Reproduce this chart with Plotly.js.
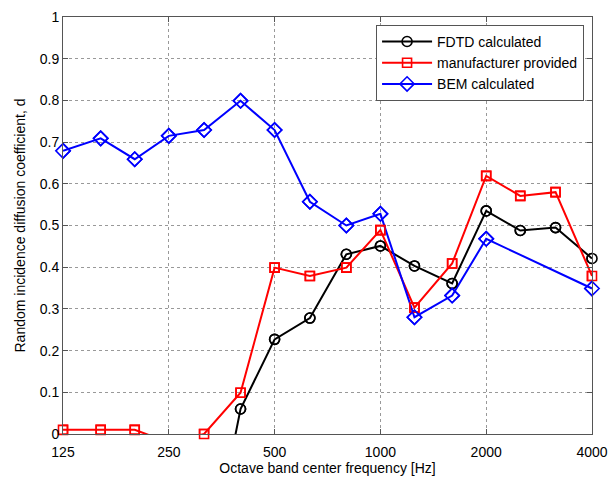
<!DOCTYPE html>
<html><head><meta charset="utf-8">
<script src="https://cdn.plot.ly/plotly-3.0.1.min.js"></script>
<style>html,body{margin:0;padding:0;background:#fff}</style>
</head><body>
<div id="chart" style="width:609px;height:477px"></div>
<script>
var freqs = [125,160,200,250,315,400,500,630,800,1000,1250,1600,2000,2500,3150,4000];
var fdtd = [null,null,null,null,-0.38,0.06,0.227,0.278,0.431,0.451,0.403,0.361,0.535,0.488,0.495,0.421];
var manufacturer = [0.01,0.01,0.01,-0.02,0.0,0.099,0.399,0.379,0.399,0.489,0.303,0.409,0.619,0.571,0.580,0.379];
var bem = [0.679,0.709,0.659,0.715,0.729,0.799,0.729,0.557,0.500,0.528,0.280,0.332,0.468,null,null,0.349];
var tickVals = [125,250,500,1000,2000,4000];
var tickText = ['125','250','500','1000','2000','4000'];
var seriesNames = ['FDTD calculated','manufacturer provided','BEM calculated'];

function xy(vals){
  var x=[],y=[];
  for(var i=0;i<freqs.length;i++){ if(vals[i]!==null){x.push(freqs[i]);y.push(vals[i]);} }
  return {x:x,y:y};
}
function inRange(vals){
  var x=[],y=[];
  for(var i=0;i<freqs.length;i++){ if(vals[i]!==null && vals[i]>=0 && vals[i]<=1){x.push(freqs[i]);y.push(vals[i]);} }
  return {x:x,y:y};
}
var defs = [
  {v:fdtd, c:'#000000', s:'circle-open', sz:10},
  {v:manufacturer, c:'#ff0000', s:'square-open', sz:9},
  {v:bem, c:'#0000ff', s:'diamond-open', sz:11}
];
var traces = [];
defs.forEach(function(d,k){
  var a = xy(d.v);
  traces.push({x:a.x,y:a.y,type:'scatter',mode:'lines+markers',name:seriesNames[k],
    line:{color:d.c,width:2},marker:{symbol:d.s,size:d.sz,color:d.c,line:{width:1.6,color:d.c}}});
});
defs.forEach(function(d,k){
  var a = inRange(d.v);
  traces.push({x:a.x,y:a.y,type:'scatter',mode:'markers',showlegend:false,cliponaxis:false,hoverinfo:'skip',
    marker:{symbol:d.s,size:d.sz,color:d.c,line:{width:1.6,color:d.c}}});
});

var fontFam = 'Liberation Sans, Arial, sans-serif';
var layout = {
  width:609,height:477,
  margin:{l:63,r:17,t:17,b:43},
  paper_bgcolor:'#fff',plot_bgcolor:'#fff',
  font:{family:fontFam,size:14,color:'#000'},
  showlegend:true,
  legend:{x:0.985,y:0.981,xanchor:'right',yanchor:'top',bgcolor:'#fff',bordercolor:'#555',borderwidth:1,
    font:{family:fontFam,size:14,color:'#000'},itemwidth:50,tracegroupgap:0},
  xaxis:{type:'log',range:[Math.log10(125),Math.log10(4000)],tickmode:'array',tickvals:tickVals,ticktext:tickText,
    showline:true,linecolor:'#555',linewidth:1,mirror:'ticks',ticks:'inside',ticklen:5,tickcolor:'#555',
    showgrid:true,gridcolor:'#999',griddash:'dot',gridwidth:1,zeroline:false,ticklabelstandoff:5,
    tickfont:{family:fontFam,size:14,color:'#000'},
    title:{text:'Octave band center frequency [Hz]',font:{family:fontFam,size:14,color:'#000'},standoff:2}},
  yaxis:{range:[0,1],tickvals:[0,0.1,0.2,0.3,0.4,0.5,0.6,0.7,0.8,0.9,1],
    ticktext:['0','0.1','0.2','0.3','0.4','0.5','0.6','0.7','0.8','0.9','1'],
    showline:true,linecolor:'#555',linewidth:1,mirror:'ticks',ticks:'inside',ticklen:5,tickcolor:'#555',
    showgrid:true,gridcolor:'#999',griddash:'dot',gridwidth:1,zeroline:false,
    tickfont:{family:fontFam,size:14,color:'#000'},
    title:{text:'Random incidence diffusion coefficient, d',font:{family:fontFam,size:14,color:'#000'},standoff:10}}
};
Plotly.newPlot('chart',traces,layout,{displayModeBar:false,staticPlot:true});
</script>
</body></html>
